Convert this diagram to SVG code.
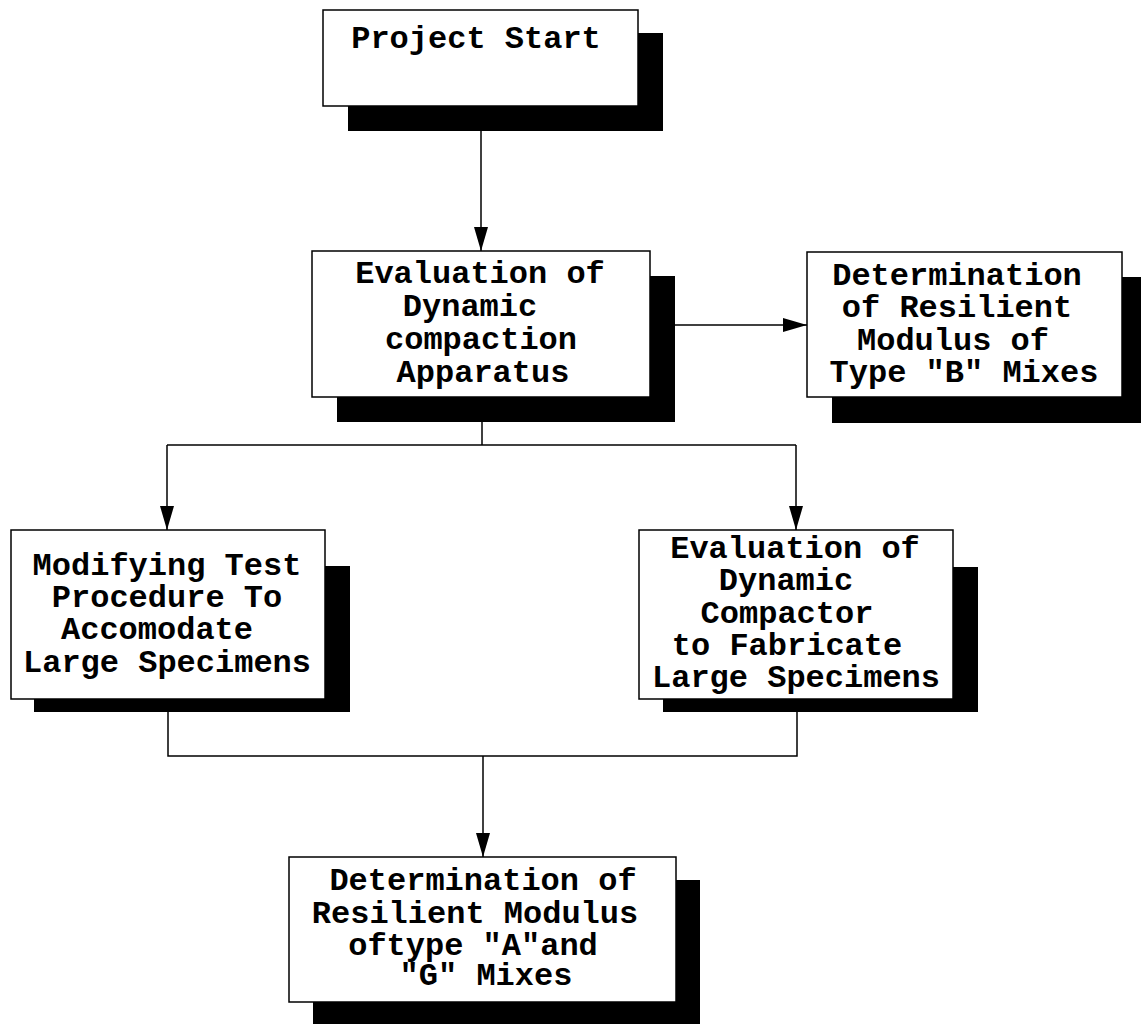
<svg xmlns="http://www.w3.org/2000/svg" width="1141" height="1024" viewBox="0 0 1141 1024">
  <style>
    .shadow { fill: #000; }
    .box { fill: #fff; stroke: #000; stroke-width: 1.5; }
    .lbl { font-family: "Liberation Mono", "Courier New", monospace; font-size: 32px; font-weight: bold; fill: #000; text-anchor: middle; }
    .wire { fill: none; stroke: #000; stroke-width: 1.5; }
  </style>
  <defs>
    <marker id="arrow" viewBox="0 0 24 14" refX="24" refY="7" markerWidth="24" markerHeight="14" markerUnits="userSpaceOnUse" orient="auto">
      <path d="M0,0 L24,7 L0,14 Z" fill="#000"/>
    </marker>
  </defs>
  <rect width="1141" height="1024" fill="#fff"/>

  <!-- connectors -->
  <g id="connectors">
    <line class="wire" x1="481" y1="131" x2="481" y2="251" marker-end="url(#arrow)"/>
    <line class="wire" x1="675" y1="325" x2="807" y2="325" marker-end="url(#arrow)"/>
    <polyline class="wire" points="482,422 482,445"/>
    <polyline class="wire" points="167,445 796,445"/>
    <line class="wire" x1="167" y1="445" x2="167" y2="530" marker-end="url(#arrow)"/>
    <line class="wire" x1="796" y1="445" x2="796" y2="530" marker-end="url(#arrow)"/>
    <polyline class="wire" points="168,712 168,756 797,756 797,712"/>
    <line class="wire" x1="483" y1="756" x2="483" y2="857" marker-end="url(#arrow)"/>
  </g>

  <!-- Project Start -->
  <g id="node-start">
    <rect class="shadow" x="348" y="33" width="315" height="98"/>
    <rect class="box" x="323" y="10" width="315" height="96"/>
    <text class="lbl" x="476" y="48">Project Start</text>
  </g>

  <!-- Evaluation of Dynamic compaction Apparatus -->
  <g id="node-apparatus">
    <rect class="shadow" x="337" y="276" width="338" height="146"/>
    <rect class="box" x="312" y="251" width="338" height="146"/>
    <text class="lbl" x="480" y="283">Evaluation of</text>
    <text class="lbl" x="470" y="316">Dynamic</text>
    <text class="lbl" x="481" y="349">compaction</text>
    <text class="lbl" x="483" y="382">Apparatus</text>
  </g>

  <!-- Determination of Resilient Modulus of Type "B" Mixes -->
  <g id="node-type-b">
    <rect class="shadow" x="832" y="277" width="315" height="146"/>
    <rect class="box" x="807" y="252" width="315" height="145"/>
    <text class="lbl" x="957" y="285">Determination</text>
    <text class="lbl" x="957" y="317">of Resilient</text>
    <text class="lbl" x="953" y="350">Modulus of</text>
    <text class="lbl" x="964" y="382">Type "B" Mixes</text>
  </g>

  <!-- Modifying Test Procedure -->
  <g id="node-procedure">
    <rect class="shadow" x="34" y="566" width="316" height="146"/>
    <rect class="box" x="11" y="530" width="314" height="169"/>
    <text class="lbl" x="167" y="575">Modifying Test</text>
    <text class="lbl" x="167" y="607">Procedure To</text>
    <text class="lbl" x="157" y="639">Accomodate</text>
    <text class="lbl" x="167" y="672">Large Specimens</text>
  </g>

  <!-- Evaluation of Dynamic Compactor -->
  <g id="node-compactor">
    <rect class="shadow" x="663" y="567" width="315" height="145"/>
    <rect class="box" x="639" y="530" width="314" height="169"/>
    <text class="lbl" x="795" y="558">Evaluation of</text>
    <text class="lbl" x="786" y="590">Dynamic</text>
    <text class="lbl" x="787" y="623">Compactor</text>
    <text class="lbl" x="787" y="655">to Fabricate</text>
    <text class="lbl" x="796" y="687">Large Specimens</text>
  </g>

  <!-- Determination of Resilient Modulus of type "A" and "G" Mixes -->
  <g id="node-type-ag">
    <rect class="shadow" x="313" y="880" width="387" height="150"/>
    <rect class="box" x="289" y="857" width="387" height="145"/>
    <text class="lbl" x="483" y="890">Determination of</text>
    <text class="lbl" x="475" y="923">Resilient Modulus</text>
    <text class="lbl" x="473" y="955">oftype "A"and</text>
    <text class="lbl" x="486" y="985">"G" Mixes</text>
  </g>
</svg>
